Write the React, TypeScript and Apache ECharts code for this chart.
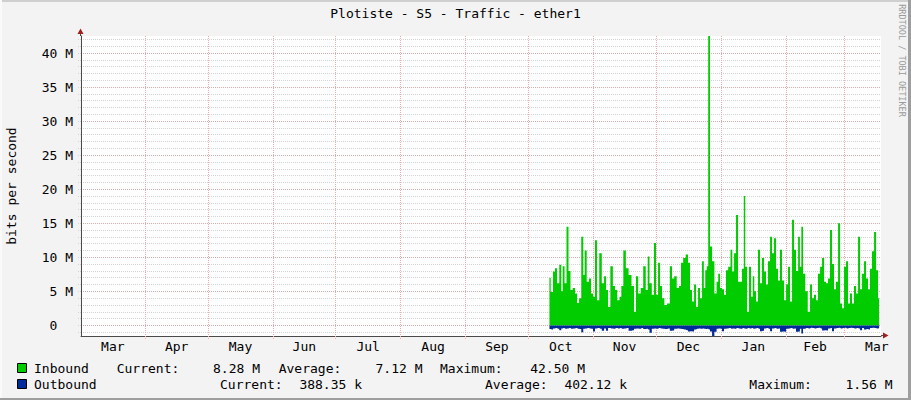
import React, { useEffect, useRef } from 'react';
import * as echarts from 'echarts';

// ---------- data ----------
const chartTitle = 'Plotiste - S5 - Traffic - ether1';
const yAxisTitle = 'bits per second';
const sideCredit = 'RRDTOOL / TOBI OETIKER';

// x axis: days counted from 1 March of the first year
const monthLabels = ['Mar', 'Apr', 'May', 'Jun', 'Jul', 'Aug', 'Sep', 'Oct', 'Nov', 'Dec', 'Jan', 'Feb', 'Mar'];
const monthStartDays = [0, 31, 61, 92, 122, 153, 184, 214, 245, 275, 306, 337, 365, 396];
const axisStartDay = 0.3;
const axisEndDay = 382.5;

// y axis labels (M = megabits per second)
const yLabelValues = [0, 5, 10, 15, 20, 25, 30, 35, 40];

// sample times (days since 1 March)
const sampleDays = [
  224.1, 225.3, 226.3, 227.2, 228.2, 229.4, 230.1, 230.8, 231.8, 232.7,
  233.7, 234.6, 235.8, 236.8, 237.8, 238.7, 239.9, 240.6, 241.3, 242.5,
  243.5, 244.4, 245.4, 246.3, 247.3, 248.5, 249.7, 250.7, 251.6, 252.6,
  253.8, 255.0, 255.9, 257.1, 258.1, 258.8, 260.0, 261.2, 262.6, 264.0,
  265.0, 265.9, 267.1, 268.3, 269.5, 270.7, 271.4, 272.4, 273.6, 274.5,
  275.5, 276.5, 277.4, 278.4, 279.6, 281.0, 282.2, 283.1, 284.3, 285.5,
  286.5, 287.4, 288.6, 289.8, 290.8, 291.7, 292.7, 293.7, 294.6, 295.6,
  296.5, 297.5, 298.2, 298.9, 299.6, 300.3, 301.3, 302.3, 303.5, 304.4,
  305.1, 306.1, 307.0, 308.0, 308.9, 310.1, 311.1, 311.8, 312.8, 313.7,
  314.7, 315.6, 316.6, 317.3, 318.0, 319.0, 319.9, 320.9, 321.6, 322.3,
  323.3, 324.2, 325.2, 326.1, 327.1, 328.0, 329.0, 330.0, 330.9, 331.9,
  332.8, 333.8, 334.7, 335.7, 336.7, 337.6, 338.6, 339.5, 340.5, 341.4,
  342.4, 343.4, 344.1, 344.8, 345.7, 346.9, 348.1, 349.1, 350.0, 351.0,
  351.9, 352.9, 353.9, 354.8, 355.8, 356.7, 357.7, 358.6, 359.6, 360.5,
  361.5, 362.5, 363.4, 364.4, 365.3, 366.3, 367.2, 368.2, 369.1, 370.1,
  371.1, 372.0, 373.0, 373.9, 374.9, 375.8, 376.8, 377.7, 378.7, 379.7,
  380.6, 381.6,
];

// inbound traffic, Mbit/s
const inboundM = [
  7.0, 4.9, 7.9, 8.4, 6.2, 8.9, 5.0, 8.7, 6.2, 14.5,
  8.0, 5.2, 5.5, 4.7, 3.3, 4.0, 13.0, 7.4, 11.0, 6.4,
  6.9, 4.7, 4.2, 12.5, 3.7, 10.6, 6.2, 7.2, 5.2, 2.7,
  8.7, 5.8, 5.2, 3.7, 4.2, 5.8, 11.0, 8.4, 7.4, 5.8,
  2.0, 7.2, 4.7, 5.5, 8.7, 5.2, 10.1, 6.2, 4.5, 12.1,
  4.5, 9.2, 5.8, 4.0, 3.0, 3.2, 8.7, 6.9, 7.2, 5.5,
  5.8, 9.2, 9.9, 10.4, 9.2, 5.2, 3.5, 6.0, 2.7, 5.5,
  4.0, 9.4, 5.5, 8.1, 8.7, 42.5, 11.6, 9.4, 4.7, 6.4,
  7.6, 5.5, 5.3, 4.5, 8.1, 8.6, 11.1, 7.9, 10.6, 16.2,
  6.4, 6.4, 8.3, 19.0, 8.6, 2.0, 8.6, 4.2, 7.2, 5.0,
  3.5, 11.1, 6.2, 9.9, 7.9, 6.0, 9.4, 13.0, 10.6, 12.8,
  8.3, 6.6, 11.1, 6.6, 3.7, 6.0, 8.6, 3.5, 15.5, 11.1,
  8.0, 13.0, 8.6, 14.5, 7.6, 5.0, 2.0, 6.0, 4.0, 4.5,
  3.7, 7.6, 8.6, 9.9, 6.4, 6.2, 6.9, 14.0, 9.0, 5.3,
  6.4, 15.0, 3.2, 2.5, 8.6, 9.4, 3.2, 4.7, 3.2, 5.8,
  4.7, 13.0, 5.3, 7.6, 9.4, 6.9, 5.3, 8.3, 10.9, 13.7,
  8.1, 4.0,
];

// outbound traffic, Mbit/s (drawn below zero)
const outboundM = [
  0.55, 0.6, 0.45, 0.4, 0.5, 0.7, 0.45, 0.4, 0.5, 0.45,
  0.4, 0.5, 0.45, 0.4, 0.5, 0.55, 1.0, 0.5, 0.45, 0.4,
  0.45, 0.5, 0.9, 0.45, 0.4, 0.5, 0.8, 0.45, 0.8, 0.4,
  0.45, 0.5, 0.4, 0.45, 0.4, 0.5, 0.45, 0.4, 0.8, 0.7,
  0.5, 0.45, 0.5, 0.4, 0.55, 0.5, 0.6, 1.1, 0.5, 0.45,
  0.5, 0.4, 0.45, 0.5, 0.55, 0.45, 0.8, 0.75, 0.5, 0.45,
  0.5, 0.55, 0.6, 0.7, 0.9, 0.85, 0.9, 0.6, 0.5, 0.45,
  0.5, 0.45, 0.5, 0.55, 0.5, 0.6, 0.9, 1.56, 0.95, 0.5,
  0.45, 0.5, 0.85, 0.5, 0.45, 0.4, 0.5, 0.45, 0.5, 0.4,
  0.45, 0.5, 0.4, 0.45, 0.5, 0.4, 0.45, 0.4, 0.5, 0.45,
  0.4, 0.5, 0.85, 0.8, 0.45, 0.4, 0.5, 0.85, 0.45, 0.4,
  0.5, 0.45, 0.95, 0.9, 0.95, 0.5, 0.45, 0.4, 0.5, 0.45,
  0.95, 0.9, 0.5, 1.2, 0.5, 0.4, 0.45, 0.35, 0.4, 0.45,
  0.4, 0.35, 0.45, 0.75, 0.7, 0.75, 0.45, 0.4, 0.85, 0.45,
  0.4, 0.35, 0.45, 0.4, 0.35, 0.45, 0.4, 0.35, 0.4, 0.45,
  0.4, 0.45, 0.7, 0.4, 0.6, 0.55, 0.6, 0.4, 0.35, 0.4,
  0.45, 0.39,
];

// legend
const seriesNames = ['Inbound', 'Outbound'];
const seriesColors = ['#00CC00', '#002A97'];
const statNames = ['Current:', 'Average:', 'Maximum:'];
const inboundStats = ['8.28 M', '7.12 M', '42.50 M'];
const outboundStats = ['388.35 k', '402.12 k', '1.56 M'];

// ---------- styling ----------
const MONO = '"DejaVu Sans Mono", monospace';
const BG = '#F3F3F3';
const MINOR = '#D3D3D3';
const MAJOR = '#E4A8A8';
const VGRID = '#F0A8A8';
const AXIS = '#4A4A4A';
const ARROW = '#A01E1E';

const GRID_LEFT = 81;
const GRID_TOP = 36;
const GRID_W = 800;
const GRID_H = 300;

function buildOption() {
  const yMax = Math.max(...inboundM);
  const yMin = -Math.max(...outboundM);
  const yTicks: number[] = [];
  for (let v = Math.ceil(yMin); v <= Math.floor(yMax); v++) yTicks.push(v);
  // colour pattern so every 5th line (multiples of 5) is a major line
  const firstTick = yTicks[0];
  const lineColors = [0, 1, 2, 3, 4].map((k) => (((firstTick + k) % 5) + 5) % 5 === 0 ? MAJOR : MINOR);

  const monthBoundaries = monthStartDays.filter((d) => d > axisStartDay && d < axisEndDay);
  const monthMids = monthLabels.map((_, i) => (monthStartDays[i] + monthStartDays[i + 1]) / 2);

  const inData = sampleDays.map((d, i) => [d, inboundM[i]]);
  const outData = sampleDays.map((d, i) => [d, -outboundM[i]]);

  const txt = (x: number, y: number, text: string, align = 'left', extra: any = {}) => ({
    type: 'text',
    x,
    y,
    silent: true,
    style: { text, font: `13px ${MONO}`, fill: '#000', align, verticalAlign: 'middle', ...extra },
  });

  const legendGraphics: any[] = [];
  const rows = [
    { y: 368.5, stats: inboundStats, labelX: [116.7, 278.7, 440], valueEnd: [260, 422.5, 585] },
    { y: 384.5, stats: outboundStats, labelX: [220, 485, 749.3], valueEnd: [362, 627, 892.5] },
  ];
  rows.forEach((r, i) => {
    legendGraphics.push({
      type: 'rect',
      x: 17.5,
      y: r.y - 5,
      shape: { x: 0, y: 0, width: 9, height: 9 },
      style: { fill: seriesColors[i], stroke: '#000', lineWidth: 1 },
      silent: true,
    });
    legendGraphics.push(txt(34, r.y, seriesNames[i]));
    statNames.forEach((s, k) => {
      legendGraphics.push(txt(r.labelX[k], r.y, s));
      legendGraphics.push(txt(r.valueEnd[k], r.y, r.stats[k], 'right'));
    });
  });

  const frame: any[] = [
    { type: 'rect', shape: { x: 0, y: 0, width: 911, height: 2 }, style: { fill: '#CFCFCF' }, silent: true },
    { type: 'rect', shape: { x: 0, y: 0, width: 2, height: 400 }, style: { fill: '#FAFAFA' }, silent: true },
    { type: 'rect', shape: { x: 908, y: 0, width: 3, height: 400 }, style: { fill: '#9E9E9E' }, silent: true },
    { type: 'rect', shape: { x: 0, y: 398, width: 911, height: 2 }, style: { fill: '#9E9E9E' }, silent: true },
    // axis extensions + arrows
    { type: 'line', shape: { x1: 80.5, y1: 33, x2: 80.5, y2: 36 }, style: { stroke: AXIS, lineWidth: 1 }, silent: true },
    { type: 'line', shape: { x1: 881, y1: 335.5, x2: 884, y2: 335.5 }, style: { stroke: AXIS, lineWidth: 1 }, silent: true },
    { type: 'polygon', shape: { points: [[80.5, 28.5], [77.5, 34], [83.5, 34]] }, style: { fill: ARROW }, silent: true },
    { type: 'polygon', shape: { points: [[888.5, 335.5], [883, 332.5], [883, 338.5]] }, style: { fill: ARROW }, silent: true },
    {
      type: 'text',
      x: 902,
      y: 60.5,
      rotation: -Math.PI / 2,
      silent: true,
      style: { text: sideCredit, font: `8.5px ${MONO}`, fill: '#9A9A9A', align: 'center', verticalAlign: 'middle' },
    },
  ];

  return {
    animation: false,
    backgroundColor: BG,
    title: {
      text: chartTitle,
      left: 'center',
      top: 7,
      padding: 0,
      textStyle: { fontFamily: MONO, fontSize: 13, fontWeight: 'normal', color: '#000' },
    },
    grid: {
      left: GRID_LEFT,
      top: GRID_TOP,
      width: GRID_W,
      height: GRID_H,
      containLabel: false,
      outerBoundsMode: 'none',
      show: true,
      backgroundColor: '#FFFFFF',
      borderWidth: 0,
    },
    xAxis: {
      type: 'value',
      min: axisStartDay,
      max: axisEndDay,
      axisLine: { show: true, onZero: false, lineStyle: { color: AXIS, width: 1 } },
      axisTick: {
        show: true,
        customValues: monthBoundaries,
        length: 3,
        lineStyle: { color: VGRID, type: [1, 1] },
      },
      axisLabel: {
        show: true,
        customValues: monthMids,
        margin: 4,
        fontFamily: MONO,
        fontSize: 13,
        color: '#000',
        formatter: (v: number) => {
          const idx = monthMids.findIndex((m) => Math.abs(m - v) < 0.01);
          return idx >= 0 ? monthLabels[idx] : '';
        },
      },
      splitLine: { show: true, lineStyle: { color: VGRID, width: 1, type: [1, 1] } },
    },
    yAxis: {
      type: 'value',
      min: yMin,
      max: yMax,
      name: yAxisTitle,
      nameLocation: 'middle',
      nameRotate: 90,
      nameGap: 63,
      nameTextStyle: { fontFamily: MONO, fontSize: 13, color: '#000' },
      axisLine: { show: true, lineStyle: { color: AXIS, width: 1 } },
      axisTick: {
        show: true,
        customValues: yTicks,
        length: 3,
        lineStyle: { color: MINOR, type: [1, 1] },
      },
      axisLabel: {
        show: true,
        customValues: yLabelValues,
        margin: 8,
        fontFamily: MONO,
        fontSize: 13,
        color: '#000',
        formatter: (v: number) => (v === 0 ? '0\u00a0\u00a0' : `${v}\u00a0M`),
      },
      splitLine: { show: true, lineStyle: { color: lineColors, width: 1, type: [1, 1] } },
    },
    series: [
      {
        name: seriesNames[0],
        type: 'line',
        data: inData,
        step: 'middle',
        symbol: 'none',
        lineStyle: { width: 0, color: seriesColors[0] },
        itemStyle: { color: seriesColors[0] },
        areaStyle: { color: seriesColors[0], opacity: 1 },
        z: 3,
      },
      {
        name: seriesNames[1],
        type: 'line',
        data: outData,
        step: 'middle',
        symbol: 'none',
        lineStyle: { width: 0, color: seriesColors[1] },
        itemStyle: { color: seriesColors[1] },
        areaStyle: { color: seriesColors[1], opacity: 1 },
        z: 4,
      },
    ],
    graphic: [...frame, ...legendGraphics],
  };
}

export default function App() {
  const ref = useRef<HTMLDivElement>(null);
  useEffect(() => {
    if (!ref.current) return;
    const chart = echarts.init(ref.current, null, { renderer: 'svg' });
    chart.setOption(buildOption() as any);
    return () => chart.dispose();
  }, []);
  return <div ref={ref} style={{ position: 'absolute', left: 0, top: 0, width: 911, height: 400 }} />;
}
